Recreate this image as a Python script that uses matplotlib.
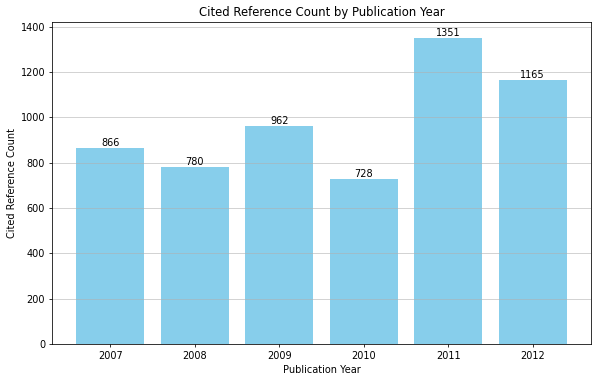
import matplotlib
matplotlib.use("Agg")
import matplotlib.pyplot as plt

years = ["2007", "2008", "2009", "2010", "2011", "2012"]
counts = [866, 780, 962, 728, 1351, 1165]

DPI = 70
fig, ax = plt.subplots(figsize=(598/DPI, 381/DPI), dpi=DPI)
bars = ax.bar(years, counts, color="skyblue")
ax.yaxis.grid(True, color="#b0b0b0", alpha=0.7)
for b, v in zip(bars, counts):
    ax.text(b.get_x() + b.get_width()/2, v, str(v), ha="center", va="bottom", fontsize=10)
ax.set_title("Cited Reference Count by Publication Year", fontsize=12)
ax.set_xlabel("Publication Year")
ax.set_ylabel("Cited Reference Count")
ax.set_ylim(0, 1420)
fig.subplots_adjust(left=52/598, right=591/598, top=1-22/381, bottom=1-344/381)
fig.savefig("out.png", dpi=DPI)
